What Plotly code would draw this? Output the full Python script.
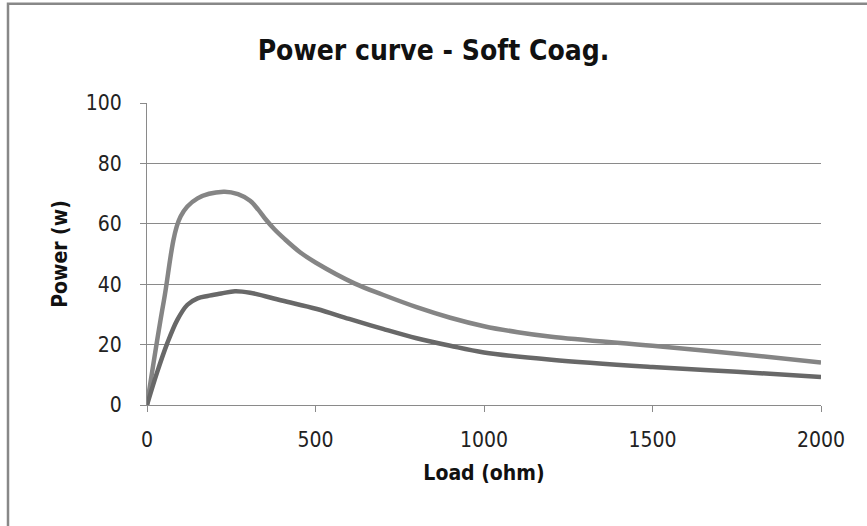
import plotly.graph_objects as go

# Load (ohm) sample points and measured power (w) for the two settings
load_high = [0, 50, 100, 150, 227, 270, 306, 330, 352, 378, 408, 454, 500, 617, 700, 800, 900, 1000, 1100, 1200, 1500, 1750, 2000]
power_high = [0, 34.5, 62.5, 68.4, 70.6, 69.8, 67.6, 64.7, 61.5, 58.2, 55.0, 50.6, 47.2, 40.2, 36.5, 32.4, 28.9, 26.1, 24.1, 22.6, 19.6, 17, 14.1]

load_low = [0, 30, 60, 90, 120, 150, 180, 220, 261, 306, 400, 504, 600, 700, 800, 900, 1000, 1200, 1500, 1750, 2000]
power_low = [0, 10.8, 20.4, 28.2, 33.2, 35.3, 36.1, 36.9, 37.7, 37.2, 34.6, 31.8, 28.5, 25.2, 22.1, 19.6, 17.4, 15, 12.6, 11, 9.3]

x_ticks = [0, 500, 1000, 1500, 2000]
y_ticks = [0, 20, 40, 60, 80, 100]

FONT = "DejaVu Sans Condensed, Liberation Sans Narrow, DejaVu Sans, sans-serif"
GRID = "#8a8a8a"

fig = go.Figure()
fig.add_trace(go.Scatter(x=load_high, y=power_high, mode="lines",
                         line=dict(color="#858585", width=4.5, shape="spline", smoothing=1.0)))
fig.add_trace(go.Scatter(x=load_low, y=power_low, mode="lines",
                         line=dict(color="#686868", width=4.5, shape="spline", smoothing=1.0)))

W, H = 867, 526
L, R, T, B = 147, 821, 102.5, 405
pw, ph = R - L, B - T

def px_x(p):
    return (p - L) / pw

def px_y(p):
    return (B - p) / ph

# chart frame (runs off the right and bottom edges)
fig.add_shape(type="rect", xref="paper", yref="paper",
              x0=px_x(8), x1=px_x(880), y0=px_y(540), y1=px_y(3),
              line=dict(color="#888888", width=2.5), fillcolor="rgba(0,0,0,0)", layer="below")

fig.update_layout(
    width=W, height=H,
    margin=dict(l=L, r=W - R, t=T, b=H - B),
    paper_bgcolor="white", plot_bgcolor="white",
    showlegend=False,
    font=dict(family=FONT, color="#1a1a1a"),
    title=dict(text="<b>Power curve - Soft Coag.</b>", x=0.5, xanchor="center",
               y=1 - 50 / H, yanchor="middle", yref="container",
               font=dict(family=FONT, size=28, color="#111111")),
    xaxis=dict(range=[0, 2000], tickvals=x_ticks, ticks="outside", ticklen=6, tickcolor=GRID,
               showline=True, linecolor=GRID, linewidth=1.2, showgrid=False, zeroline=False,
               tickfont=dict(size=21, color="#222222"), ticklabelstandoff=10,
               title=dict(text="<b>Load (ohm)</b>", font=dict(size=21, color="#111111"), standoff=14)),
    yaxis=dict(range=[0, 100], tickvals=y_ticks, ticks="outside", ticklen=6, tickcolor=GRID,
               showline=True, linecolor=GRID, linewidth=1.2, showgrid=True, gridcolor=GRID, gridwidth=1,
               zeroline=False,
               tickfont=dict(size=21, color="#222222"), ticklabelstandoff=14,
               title=dict(text="<b>Power (w)</b>", font=dict(size=21, color="#111111"), standoff=12)),
)

fig.write_html("out.html")
